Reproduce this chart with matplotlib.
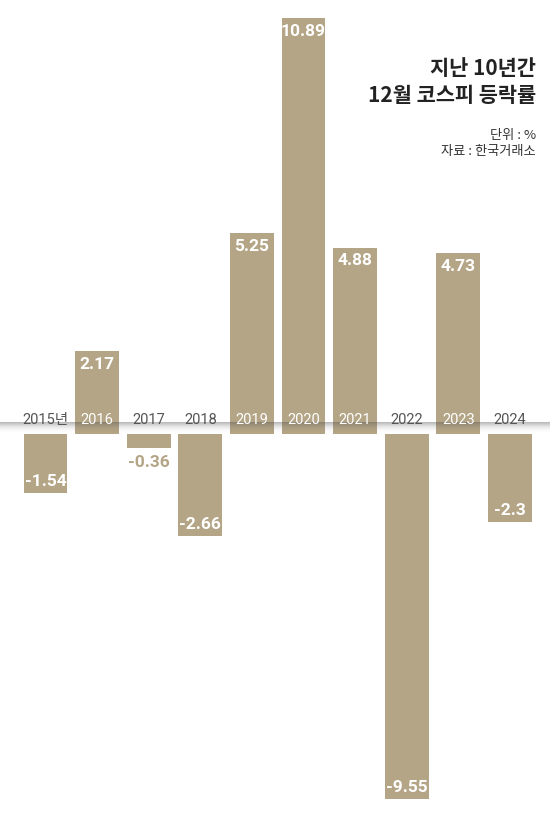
import matplotlib
matplotlib.use("Agg")
import matplotlib.pyplot as plt
import numpy as np

plt.rcParams['font.family'] = ['Noto Sans CJK KR', 'DejaVu Sans']
num_family = ['Roboto', 'Noto Sans CJK KR']

years = ['2015년', '2016', '2017', '2018', '2019', '2020', '2021', '2022', '2023', '2024']
values = [-1.54, 2.17, -0.36, -2.66, 5.25, 10.89, 4.88, -9.55, 4.73, -2.3]
value_labels = ['-1.54', '2.17', '-0.36', '-2.66', '5.25', '10.89', '4.88', '-9.55', '4.73', '-2.3']

W, H = 560, 821
fig = plt.figure(figsize=(W / 100, H / 100), dpi=100)
ax = fig.add_axes([0, 0, 1, 1])

ppu = 38.2          # pixels per unit
base_px = 434       # baseline pixel from top
x0_px, dx_px = 45.5, 51.6

ymax = base_px / ppu
ymin = -(H - base_px) / ppu
xmin = -x0_px / dx_px
xmax = (W - x0_px) / dx_px
ax.set_xlim(xmin, xmax)
ax.set_ylim(ymin, ymax)
ax.axis('off')

bar_color = '#b4a586'
x = np.arange(len(years))
ax.bar(x, values, width=0.85, color=bar_color, zorder=2)

# baseline shadow gradient
grad_h = 12 / ppu
n = 64
t = np.linspace(0, 1, n)
alpha = 0.42 * t ** 2.2
img = np.zeros((n, 2, 4))
img[..., :3] = 0.3
img[..., 3] = alpha[::-1][:, None]
ax.imshow(img, extent=(xmin, xmax - 0.2, 0, grad_h), aspect='auto', zorder=3,
          interpolation='bilinear', origin='upper')

for i, (v, lab, yr) in enumerate(zip(values, value_labels, years)):
    yc = 14 / ppu
    col = 'white' if v > 0 else '#555555'
    ax.text(i, yc, yr, ha='center', va='center', fontsize=10.5, color=col,
            family=num_family, zorder=4)
    kw = dict(ha='center', va='center', fontsize=12.5, fontweight='bold',
              family=num_family, zorder=4)
    if abs(v) < 0.6:
        ax.text(i, v - 15 / ppu, lab, color=bar_color, **kw)
    elif v > 0:
        ax.text(i, v - 13 / ppu, lab, color='white', **kw)
    else:
        ax.text(i, v + 11 / ppu, lab, color='white', **kw)

def fy(py):
    return 1 - py / H

fig.text(536 / W, fy(68), '지난 10년간', ha='right', va='center', fontsize=15,
         fontweight='bold', color='#222222')
fig.text(536 / W, fy(96), '12월 코스피 등락률', ha='right', va='center', fontsize=15,
         fontweight='bold', color='#222222')
fig.text(536 / W, fy(135), '단위 : %', ha='right', va='center', fontsize=9.5,
         color='#333333')
fig.text(536 / W, fy(152), '자료 : 한국거래소', ha='right', va='center', fontsize=9.5,
         color='#333333')

fig.savefig('out.png', dpi=100, facecolor='white')
